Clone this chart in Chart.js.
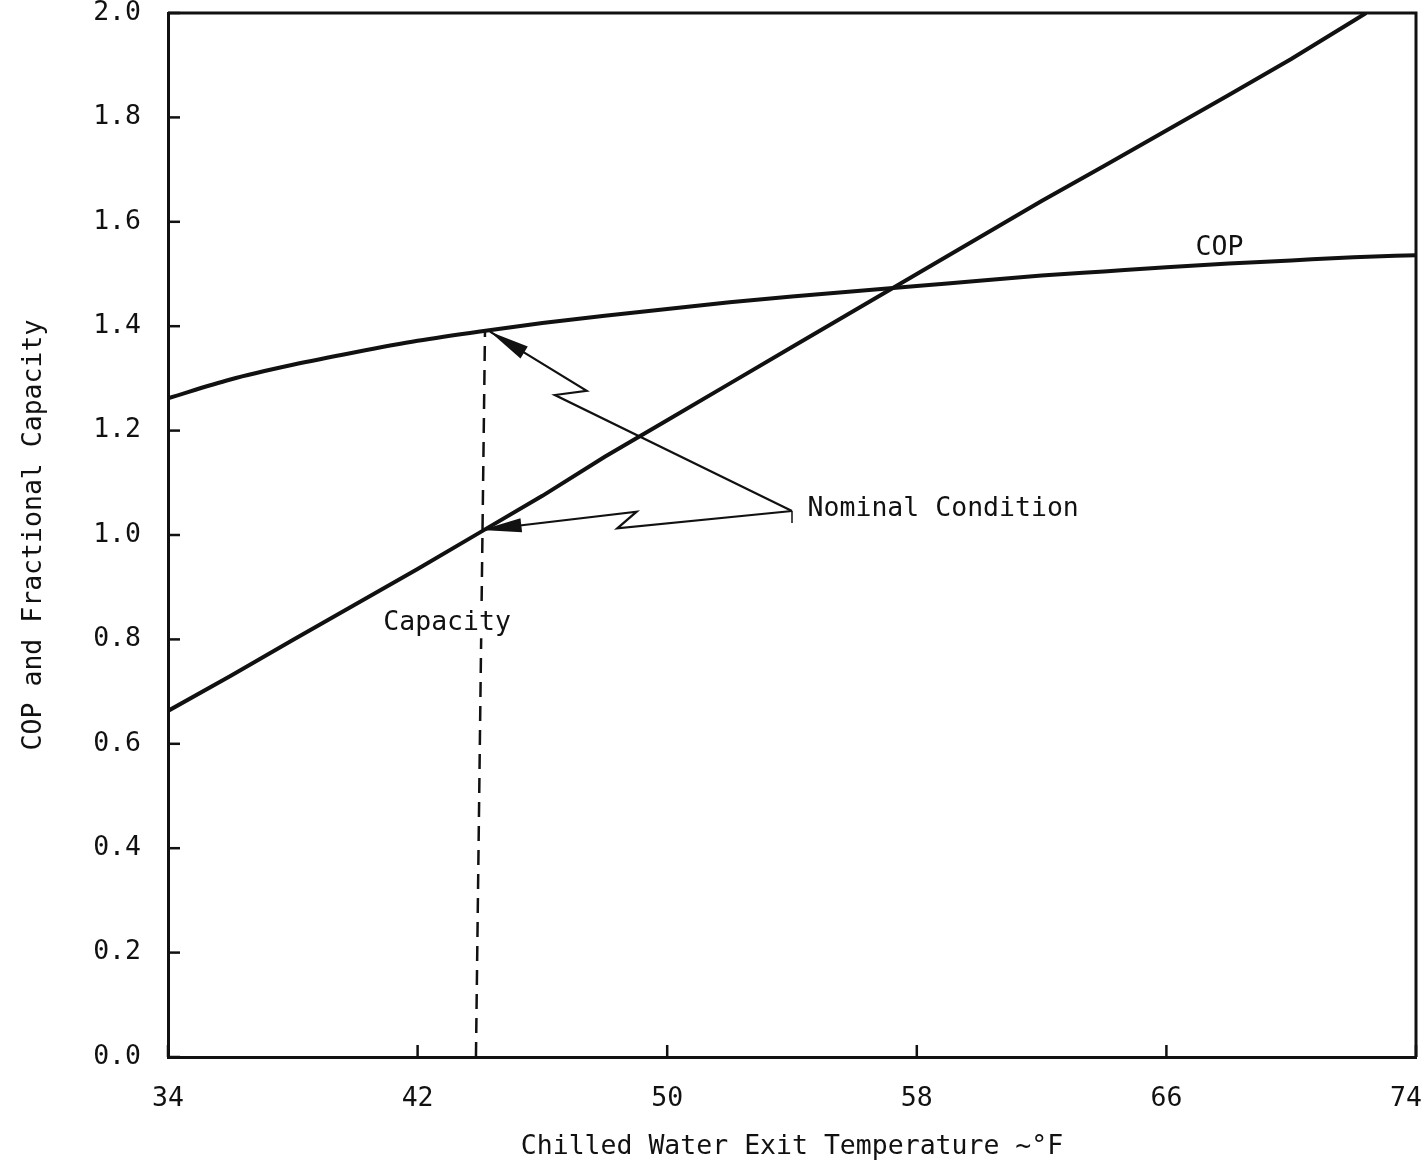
<!DOCTYPE html>
<html>
<head>
<meta charset="utf-8">
<script src="https://cdn.jsdelivr.net/npm/chart.js@4/dist/chart.umd.min.js"></script>
<style>
html,body{margin:0;padding:0;background:#fff;overflow:hidden}
canvas{display:block}
</style>
</head>
<body>
<canvas id="c" width="1428" height="1167"></canvas>
<script>
// ---- data ----
const copTemps = [34, 36, 38, 40, 42, 44, 46, 48, 50, 52, 54, 56, 58, 60, 62, 64, 66, 68, 70, 72, 74];
const copValues = [1.262, 1.298, 1.326, 1.350, 1.372, 1.390, 1.406, 1.420, 1.433, 1.446, 1.457, 1.467, 1.477, 1.487, 1.497, 1.505, 1.513, 1.520, 1.526, 1.532, 1.536];

const capTemps = [34, 36, 38, 40, 42, 44, 46, 48, 50, 52, 54, 56, 58, 60, 62, 64, 66, 68, 70, 72, 72.4];
const capValues = [0.663, 0.730, 0.799, 0.867, 0.935, 1.005, 1.075, 1.150, 1.220, 1.290, 1.360, 1.430, 1.500, 1.570, 1.640, 1.707, 1.775, 1.843, 1.912, 1.985, 2.0];

// vertical dashed line at the nominal temperature
const nominalLineTemps = [43.87, 44.16];
const nominalLineValues = [0.0, 1.391];

// "Nominal Condition" leader lines (tip first)
const leaderCopTemps = [44.32, 47.42, 46.40, 54.0];
const leaderCopValues = [1.3895, 1.2764, 1.2682, 1.046];
const leaderCapTemps = [44.05, 49.02, 48.40, 54.0];
const leaderCapValues = [1.0096, 1.0447, 1.0128, 1.046];
const leaderTailTemps = [54.0, 54.0];
const leaderTailValues = [1.046, 1.023];

// tick labels
const xTicks = [34, 42, 50, 58, 66, 74];
const yTicks = [0.0, 0.2, 0.4, 0.6, 0.8, 1.0, 1.2, 1.4, 1.6, 1.8, 2.0];

// text labels: [text, temp, value, align]
const labelTexts = ['COP', 'Nominal Condition', 'Capacity'];
const labelTemps = [67.7, 54.5, 40.9];
const labelValues = [1.55, 1.050, 0.831];

const xTitle = 'Chilled Water Exit Temperature ~°F';
const yTitle = 'COP and Fractional Capacity';

// ---- helpers ----
const pts = (xs, ys) => xs.map((x, i) => ({x: x, y: ys[i]}));
const FONT_FAMILY = "'DejaVu Sans Mono', 'Liberation Mono', monospace";
const FONT_SIZE = 26.5;
const INK = '#111111';

const decorPlugin = {
  id: 'decor',
  afterDatasetsDraw(chart) {
    const ctx = chart.ctx;
    const a = chart.chartArea;
    const xs = chart.scales.x, ys = chart.scales.y;
    ctx.save();
    ctx.strokeStyle = INK;
    ctx.fillStyle = INK;
    // top and right frame
    ctx.lineWidth = 3;
    ctx.beginPath();
    ctx.moveTo(a.left, a.top);
    ctx.lineTo(a.right, a.top);
    ctx.lineTo(a.right, a.bottom);
    ctx.stroke();
    // inward ticks
    ctx.lineWidth = 2.5;
    ys.ticks.forEach(t => {
      const py = ys.getPixelForValue(t.value);
      ctx.beginPath(); ctx.moveTo(a.left, py); ctx.lineTo(a.left + 12, py); ctx.stroke();
    });
    xs.ticks.forEach(t => {
      const px = xs.getPixelForValue(t.value);
      ctx.beginPath(); ctx.moveTo(px, a.bottom); ctx.lineTo(px, a.bottom - 12); ctx.stroke();
    });
    // x tick labels
    ctx.font = FONT_SIZE + 'px ' + FONT_FAMILY;
    ctx.textBaseline = 'middle';
    ctx.textAlign = 'center';
    xTicks.forEach(v => {
      let px = xs.getPixelForValue(v);
      const w = ctx.measureText(String(v)).width;
      if (px + w / 2 > chart.width - 6) px = chart.width - 6 - w / 2;
      ctx.fillText(String(v), px, a.bottom + 42);
    });
    // arrowheads on the leader lines
    [3, 4].forEach(di => {
      const meta = chart.getDatasetMeta(di);
      const p0 = meta.data[0], p1 = meta.data[1];
      const dx = p1.x - p0.x, dy = p1.y - p0.y;
      const L = Math.hypot(dx, dy);
      const ux = dx / L, uy = dy / L;
      const len = 40, half = 7;
      const bx = p0.x + ux * len, by = p0.y + uy * len;
      ctx.beginPath();
      ctx.moveTo(p0.x, p0.y);
      ctx.lineTo(bx - uy * half, by + ux * half);
      ctx.lineTo(bx + uy * half, by - ux * half);
      ctx.closePath();
      ctx.fill();
    });
    // text labels
    ctx.textAlign = 'left';
    labelTexts.forEach((txt, i) => {
      const px = xs.getPixelForValue(labelTemps[i]);
      const py = ys.getPixelForValue(labelValues[i]);
      const w = ctx.measureText(txt).width;
      if (i === 0) {
        ctx.textAlign = 'center';
        ctx.fillText(txt, px, py);
        ctx.textAlign = 'left';
      } else {
        ctx.fillStyle = '#ffffff';
        ctx.fillRect(px - 2, py - 15, w + 4, 30);
        ctx.fillStyle = INK;
        ctx.fillText(txt, px, py);
      }
    });
    ctx.restore();
  }
};

const lineDs = (data, width, dash, extra) => Object.assign({
  data: data,
  borderColor: INK,
  borderWidth: width,
  borderDash: dash || [],
  pointRadius: 0,
  fill: false,
  tension: 0
}, extra || {});

new Chart(document.getElementById('c'), {
  type: 'line',
  data: {
    datasets: [
      lineDs(pts(copTemps, copValues), 4, null, {cubicInterpolationMode: 'monotone', label: 'COP'}),
      lineDs(pts(capTemps, capValues), 4, null, {label: 'Capacity'}),
      lineDs(pts(nominalLineTemps, nominalLineValues), 2.5, [15, 9], {label: 'Nominal'}),
      lineDs(pts(leaderCopTemps, leaderCopValues), 2.2, null, {label: 'leader1'}),
      lineDs(pts(leaderCapTemps, leaderCapValues), 2.2, null, {label: 'leader2'}),
      lineDs(pts(leaderTailTemps, leaderTailValues), 1.5, null, {label: 'tail'})
    ]
  },
  options: {
    responsive: false,
    animation: false,
    events: [],
    layout: {padding: {top: 13, right: 12, left: 0, bottom: 0}},
    plugins: {legend: {display: false}, tooltip: {enabled: false}},
    scales: {
      x: {
        type: 'linear',
        min: 34, max: 74,
        afterBuildTicks: s => { s.ticks = xTicks.map(v => ({value: v})); },
        ticks: {display: false},
        grid: {display: false, drawTicks: false},
        border: {display: true, color: INK, width: 3},
        title: {display: true, text: xTitle, color: INK,
                font: {family: FONT_FAMILY, size: FONT_SIZE}, padding: {top: 4, bottom: 4}},
        afterFit: s => { s.height = 110; s.paddingLeft = 0; s.paddingRight = 0; }
      },
      y: {
        type: 'linear',
        min: 0, max: 2,
        afterBuildTicks: s => { s.ticks = yTicks.map(v => ({value: v})); },
        ticks: {
          color: INK,
          font: {family: FONT_FAMILY, size: FONT_SIZE},
          padding: 27,
          callback: v => Number(v).toFixed(1)
        },
        grid: {display: false, drawTicks: false},
        border: {display: true, color: INK, width: 3},
        title: {display: true, text: yTitle, color: INK,
                font: {family: FONT_FAMILY, size: FONT_SIZE}, padding: {top: 18, bottom: 0}},
        afterFit: s => { s.width = 168; s.paddingTop = 0; s.paddingBottom = 0; }
      }
    }
  },
  plugins: [decorPlugin]
});
</script>
</body>
</html>
